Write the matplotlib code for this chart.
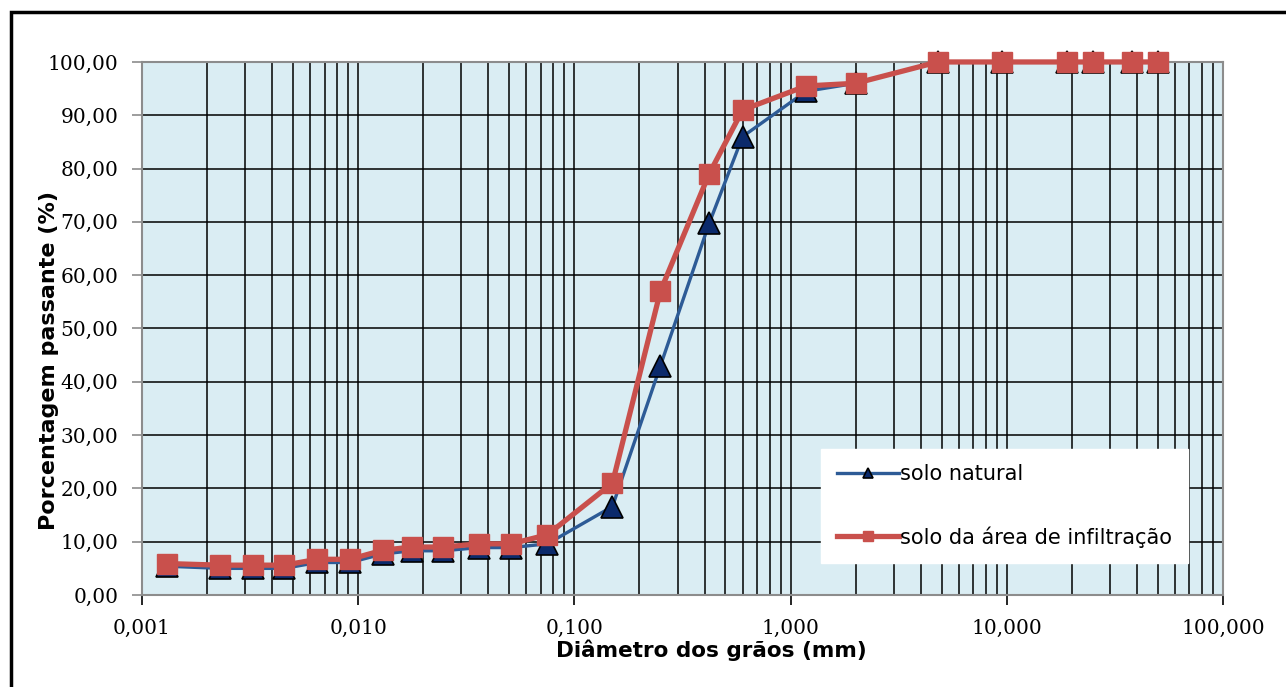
import numpy as np
import matplotlib
matplotlib.use("Agg")
import matplotlib.pyplot as plt
from matplotlib.ticker import FixedLocator, LogLocator, NullFormatter, FuncFormatter
from matplotlib.patches import Rectangle

# diâmetros das peneiras (mm)
diametro = [0.00131, 0.0023, 0.00325, 0.00456, 0.00646, 0.00916, 0.0130, 0.0177,
            0.0248, 0.0361, 0.0509, 0.075, 0.15, 0.25, 0.42, 0.60, 1.18, 2.0,
            4.8, 9.5, 19.0, 25.0, 38.0, 50.0]

# porcentagem passante (%)
solo_natural = [5.4, 5.0, 5.0, 5.0, 6.1, 6.1, 7.7, 8.3, 8.3, 8.9, 8.9, 9.6,
                16.6, 43.0, 69.7, 86.0, 94.5, 96.0, 100.0, 100.0, 100.0, 100.0, 100.0, 100.0]
solo_infiltracao = [5.9, 5.6, 5.6, 5.6, 6.7, 6.7, 8.4, 9.0, 9.0, 9.6, 9.6, 11.3,
                    21.0, 57.0, 79.0, 91.0, 95.5, 96.0, 100.0, 100.0, 100.0, 100.0, 100.0, 100.0]

fig = plt.figure(figsize=(12.86, 6.87), dpi=100)
ax = fig.add_axes([0.1104, 0.1339, 0.8406, 0.7759])
ax.set_facecolor("#daedf3")

ax.plot(diametro, solo_natural, '-', color="#2d5b96", lw=2.4, marker='^', ms=16,
        mfc="#0b2a6b", mec="black", mew=1.2, label="solo natural", zorder=4,
        clip_on=False)
ax.plot(diametro, solo_infiltracao, '-', color="#c9504c", lw=3.8, marker='s', ms=15,
        mfc="#c9504c", mec="#c9504c", label="solo da área de infiltração", zorder=5,
        clip_on=False)

ax.set_xscale("log")
ax.set_xlim(0.001, 100)
ax.set_ylim(0, 100)
ax.set_yticks(np.arange(0, 101, 10))
ax.yaxis.set_major_formatter(FuncFormatter(lambda v, p: f"{v:.2f}".replace(".", ",")))
ax.xaxis.set_major_locator(FixedLocator([0.001, 0.01, 0.1, 1, 10, 100]))
ax.xaxis.set_major_formatter(FuncFormatter(lambda v, p: f"{v:.3f}".replace(".", ",")))
ax.xaxis.set_minor_locator(LogLocator(base=10, subs=np.arange(2, 10)))
ax.xaxis.set_minor_formatter(NullFormatter())

ax.grid(True, which="both", axis="x", color="black", lw=1.1)
ax.grid(True, which="major", axis="y", color="black", lw=1.1)
ax.set_axisbelow(True)
for s in ax.spines.values():
    s.set_color("#8c8c8c")
    s.set_linewidth(1.5)

ax.tick_params(axis="y", which="major", length=7, color="#8c8c8c", width=1.2, pad=10,
               labelsize=14.5)
ax.tick_params(axis="x", which="major", length=7, color="black", width=1.2, pad=10,
               labelsize=14.5, direction="out")
ax.tick_params(axis="x", which="minor", length=0)
for lbl in ax.get_xticklabels() + ax.get_yticklabels():
    lbl.set_family("DejaVu Serif")

ax.set_xlabel("Diâmetro dos grãos (mm)", fontsize=15.5, fontweight="bold")
ax.xaxis.set_label_coords(0.527, -0.083)
ax.set_ylabel("Porcentagem passante (%)", fontsize=16, fontweight="bold")
ax.yaxis.set_label_coords(-0.077, 0.44)

leg = ax.legend(loc="lower right", bbox_to_anchor=(0.977, 0.04), fontsize=15,
                frameon=True, fancybox=False, framealpha=1, edgecolor="white",
                markerscale=0.45, handlelength=3.0, handletextpad=0.05,
                labelspacing=2.0, borderpad=0.75)
leg.set_zorder(10)

# moldura
fig.patches.append(Rectangle((0.0085, -0.1), 1.2, 1.083, transform=fig.transFigure,
                             fill=False, edgecolor="black", lw=2.5))

plt.savefig("out.png", dpi=100)
